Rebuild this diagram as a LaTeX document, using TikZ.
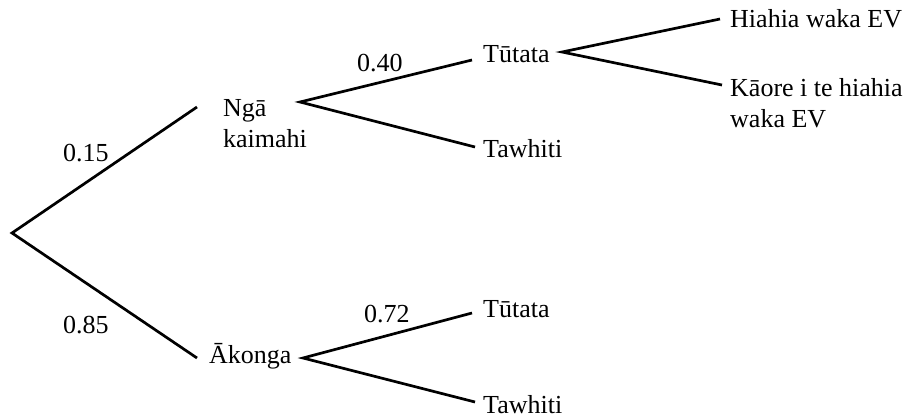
\documentclass[tikz,border=0pt]{standalone}
\usepackage{fontspec}
\setmainfont{Liberation Serif}
\begin{document}
\begin{tikzpicture}[x=1pt,y=-1pt,
  lbl/.style={inner sep=0pt,anchor=base west,font=\fontsize{26}{31}\selectfont},
  ml/.style={lbl,align=left},
  br/.style={line width=2.7pt,black}]
\useasboundingbox (0,0) rectangle (908,418);
% labels
\node[ml] (nga) at (223,147) {Ngā\\kaimahi};
\node[lbl] (ak) at (209,363) {Ākonga};
\node[lbl] (t1) at (483,62) {Tūtata};
\node[lbl] (tw1) at (483,157) {Tawhiti};
\node[lbl] (t2) at (483,317) {Tūtata};
\node[lbl] (tw2) at (483,413) {Tawhiti};
\node[lbl] (h) at (730,27) {Hiahia waka EV};
\node[ml] (k) at (730,127) {Kāore i te hiahia\\waka EV};
\node[lbl] (p15) at (63,161) {0.15};
\node[lbl] (p85) at (63,333) {0.85};
\node[lbl] (p40) at (357,71) {0.40};
\node[lbl] (p72) at (364,322) {0.72};
% branch points
\coordinate (root) at (12,233);
\coordinate (ngain) at (197,107);
\coordinate (ngaout) at (300,102);
\coordinate (akin) at (197,358);
\coordinate (akout) at (303,358);
\coordinate (tain) at (472,60);
\coordinate (twain) at (475,147);
\coordinate (taout) at (562,52);
\coordinate (hin) at (720,19);
\coordinate (kin) at (722,85);
\coordinate (tbin) at (472,313);
\coordinate (twbin) at (475,402);
% branches
\draw[br] (ngain) -- (root) -- (akin);
\draw[br] (tain) -- (ngaout) -- (twain);
\draw[br] (tbin) -- (akout) -- (twbin);
\draw[br] (hin) -- (taout) -- (kin);
\end{tikzpicture}
\end{document}
